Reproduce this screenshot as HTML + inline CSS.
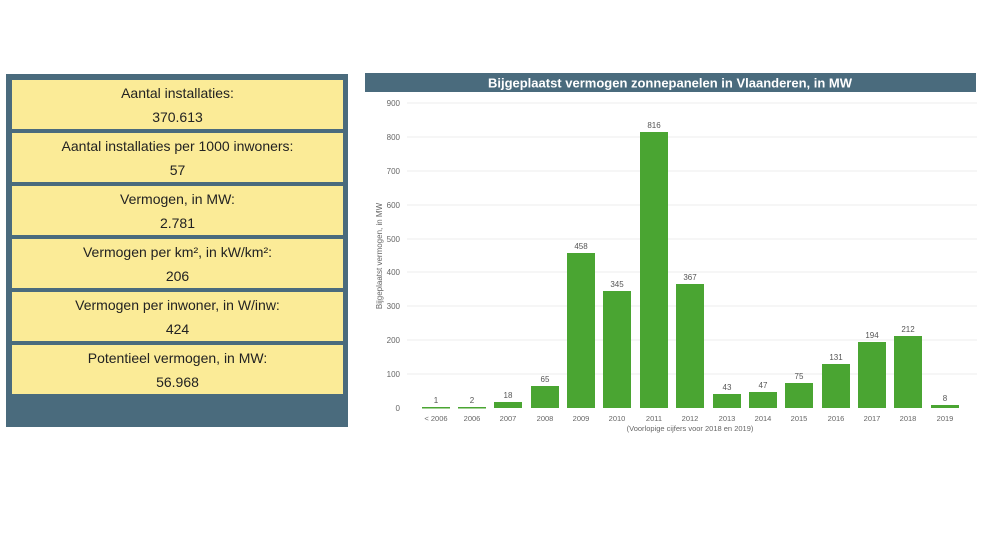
<!DOCTYPE html>
<html><head><meta charset="utf-8"><style>
body{margin:0;width:990px;height:556px;background:#fff;position:relative;overflow:hidden;font-family:"Liberation Sans",sans-serif}
.panel{position:absolute;left:6px;top:74px;width:342px;height:353px;background:#4a6b7d}
.box{position:absolute;left:6px;width:331px;height:49px;background:#fbeb97;text-align:center;color:#222;font-size:14px;line-height:24px;padding-top:1px;box-sizing:border-box}
</style></head><body>
<div class="panel">
<div class="box" style="top:6px">Aantal installaties:<br>370.613</div>
<div class="box" style="top:59px">Aantal installaties per 1000 inwoners:<br>57</div>
<div class="box" style="top:112px">Vermogen, in MW:<br>2.781</div>
<div class="box" style="top:165px">Vermogen per km², in kW/km²:<br>206</div>
<div class="box" style="top:218px">Vermogen per inwoner, in W/inw:<br>424</div>
<div class="box" style="top:271px">Potentieel vermogen, in MW:<br>56.968</div>
</div>
<svg width="990" height="556" style="position:absolute;left:0;top:0" font-family="Liberation Sans, sans-serif">
<rect x="365" y="73" width="611" height="19" fill="#4a6b7d"/>
<text x="670" y="87.5" fill="#fff" font-size="13" font-weight="600" text-anchor="middle">Bijgeplaatst vermogen zonnepanelen in Vlaanderen, in MW</text>
<g stroke="#eee" stroke-width="1">
<line x1="407" x2="977" y1="103" y2="103"/><line x1="407" x2="977" y1="137" y2="137"/><line x1="407" x2="977" y1="171" y2="171"/><line x1="407" x2="977" y1="205" y2="205"/><line x1="407" x2="977" y1="239" y2="239"/><line x1="407" x2="977" y1="272" y2="272"/><line x1="407" x2="977" y1="306" y2="306"/><line x1="407" x2="977" y1="340" y2="340"/><line x1="407" x2="977" y1="374" y2="374"/>
</g>
<g font-size="8" fill="#666" text-anchor="end">
<text x="400" y="106">900</text><text x="400" y="140">800</text><text x="400" y="174">700</text><text x="400" y="208">600</text><text x="400" y="242">500</text><text x="400" y="275">400</text><text x="400" y="309">300</text><text x="400" y="343">200</text><text x="400" y="377">100</text><text x="400" y="411">0</text>
</g>
<text transform="translate(382,256) rotate(-90)" font-size="8" fill="#666" text-anchor="middle">Bijgeplaatst vermogen, in MW</text>
<g fill="#4aa532">
<rect x="422" y="407" width="28" height="1.5"/>
<rect x="458" y="407" width="28" height="1.5"/>
<rect x="494" y="402" width="28" height="6"/>
<rect x="531" y="386" width="28" height="22"/>
<rect x="567" y="253" width="28" height="155"/>
<rect x="603" y="291" width="28" height="117"/>
<rect x="640" y="132" width="28" height="276"/>
<rect x="676" y="284" width="28" height="124"/>
<rect x="713" y="394" width="28" height="14"/>
<rect x="749" y="392" width="28" height="16"/>
<rect x="785" y="383" width="28" height="25"/>
<rect x="822" y="364" width="28" height="44"/>
<rect x="858" y="342" width="28" height="66"/>
<rect x="894" y="336" width="28" height="72"/>
<rect x="931" y="405" width="28" height="3"/>
</g>
<g font-size="8" fill="#555" text-anchor="middle">
<text x="436" y="403">1</text><text x="472" y="403">2</text><text x="508" y="398">18</text><text x="545" y="382">65</text><text x="581" y="249">458</text><text x="617" y="287">345</text><text x="654" y="128">816</text><text x="690" y="280">367</text><text x="727" y="390">43</text><text x="763" y="388">47</text><text x="799" y="379">75</text><text x="836" y="360">131</text><text x="872" y="338">194</text><text x="908" y="332">212</text><text x="945" y="401">8</text>
</g>
<g font-size="7.5" fill="#666" text-anchor="middle">
<text x="436" y="421">&lt; 2006</text><text x="472" y="421">2006</text><text x="508" y="421">2007</text><text x="545" y="421">2008</text><text x="581" y="421">2009</text><text x="617" y="421">2010</text><text x="654" y="421">2011</text><text x="690" y="421">2012</text><text x="727" y="421">2013</text><text x="763" y="421">2014</text><text x="799" y="421">2015</text><text x="836" y="421">2016</text><text x="872" y="421">2017</text><text x="908" y="421">2018</text><text x="945" y="421">2019</text>
<text x="690" y="431">(Voorlopige cijfers voor 2018 en 2019)</text>
</g>
</svg>
</body></html>
